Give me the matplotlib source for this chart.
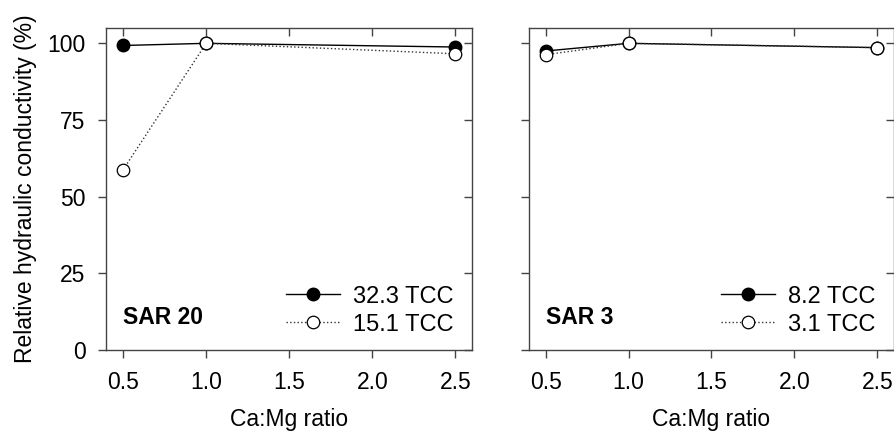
import matplotlib
matplotlib.use("Agg")
import matplotlib.pyplot as plt

# -------- Data ----------
ratio = [0.5, 1.0, 2.5]

sar20_high = [99.3, 100.0, 98.8]   # 32.3 TCC
sar20_low = [58.8, 100.0, 96.6]    # 15.1 TCC
sar3_high = [97.5, 100.0, 98.6]    # 8.2 TCC
sar3_low = [96.3, 100.0, 98.6]     # 3.1 TCC

panels = [
    ("SAR 20", sar20_high, sar20_low, "32.3 TCC", "15.1 TCC"),
    ("SAR 3", sar3_high, sar3_low, "8.2 TCC", "3.1 TCC"),
]
xticks = [0.5, 1.0, 1.5, 2.0, 2.5]
yticks = [0, 25, 50, 75, 100]
# --------------------------

plt.rcParams['font.family'] = ['Liberation Sans', 'DejaVu Sans']
FRAME = "#444444"
FS = 16.5

fig = plt.figure(figsize=(8.95, 4.32), dpi=100)
W, H = 895, 432
boxes = [(106.5, 472), (529, 894)]
top, bottom = 28, 350

for i, (label, hi, lo, lab_hi, lab_lo) in enumerate(panels):
    x0, x1 = boxes[i]
    ax = fig.add_axes([x0 / W, 1 - bottom / H, (x1 - x0) / W, (bottom - top) / H])
    ax.plot(ratio, hi, "-", color="black", lw=1.0, marker="o", ms=9,
            mfc="black", mec="black", label=lab_hi, zorder=3)
    ax.plot(ratio, lo, ":", color="#333333", lw=1.0, marker="o", ms=9,
            mfc="white", mec="black", mew=0.9, label=lab_lo, zorder=4)

    ax.set_xlim(0.4, 2.6)
    ax.set_ylim(0, 105)
    ax.set_xticks(xticks)
    ax.set_xticklabels([f"{t:.1f}" for t in xticks])
    ax.set_yticks(yticks)
    ax.tick_params(axis="both", which="both", labelsize=FS, color=FRAME,
                   width=1.0, length=6, direction="out", top=True, right=True)
    ax.tick_params(axis="x", pad=9)
    ax.tick_params(axis="y", pad=9)
    # top/right ticks point inwards
    for t in ax.xaxis.get_major_ticks():
        t.tick2line.set_marker(matplotlib.lines.TICKDOWN)
    for t in ax.yaxis.get_major_ticks():
        t.tick2line.set_marker(matplotlib.lines.TICKLEFT)
    for s in ax.spines.values():
        s.set_color(FRAME)
        s.set_linewidth(1.0)

    if i == 0:
        ax.set_ylabel("Relative hydraulic conductivity (%)", fontsize=FS, labelpad=7.5)
    else:
        ax.set_yticklabels([])
    ax.set_xlabel("Ca:Mg ratio", fontsize=FS, labelpad=10)

    ax.text(0.5, 10.5, label, fontsize=FS, fontweight="bold", va="center", ha="left")
    ax.legend(loc="lower right", bbox_to_anchor=(0.95, 0.045), frameon=False,
              fontsize=17, handlelength=2.3, handletextpad=0.55,
              labelspacing=0.25, markerscale=1.0, borderpad=0.0, borderaxespad=0.0)

fig.savefig("out.png", dpi=100)
